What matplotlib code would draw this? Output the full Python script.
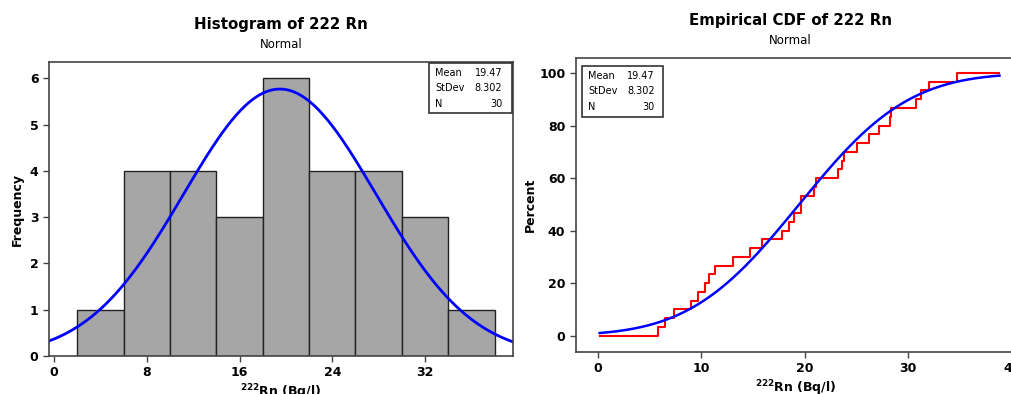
import numpy as np
import matplotlib.pyplot as plt
from matplotlib.patches import Rectangle
from math import erf, sqrt, pi

# values
rn_values = [5.87, 6.52, 7.33, 9.02, 9.70, 10.35, 10.74, 11.30, 13.10, 14.67,
             15.87, 17.79, 18.47, 18.92, 19.67, 19.67, 20.87, 21.13, 23.17, 23.56,
             23.80, 25.04, 26.17, 27.20, 28.20, 28.37, 30.70, 31.26, 32.00, 34.66]
bin_edges = [2, 6, 10, 14, 18, 22, 26, 30, 34, 38]
mean_val = 19.47
std_val = 8.302
n_val = 30
hist_ticks = [0, 8, 16, 24, 32]
cdf_xticks = [0, 10, 20, 30, 40]
cdf_yticks = [0, 20, 40, 60, 80, 100]
stat_labels = ["Mean", "StDev", "N"]
stat_values = ["19.47", "8.302", "30"]


def normal_pdf(x):
    return np.exp(-0.5 * ((x - mean_val) / std_val) ** 2) / (std_val * sqrt(2 * pi))


def normal_cdf(x):
    return np.array([0.5 * (1 + erf((v - mean_val) / (std_val * sqrt(2)))) for v in x])


def stats_box(ax, x0, y0, w, h, pad_l, pad_r):
    """Minitab style summary box, coordinates in axes fraction."""
    ax.add_patch(Rectangle((x0, y0), w, h, transform=ax.transAxes,
                           facecolor="white", edgecolor="#333333", lw=1.2, zorder=5))
    for i, (lab, val) in enumerate(zip(stat_labels, stat_values)):
        yy = y0 + h * (1 - (0.19 + 0.31 * i))
        ax.text(x0 + pad_l, yy, lab, transform=ax.transAxes,
                fontsize=7, va="center", ha="left", zorder=6)
        ax.text(x0 + w - pad_r, yy, val, transform=ax.transAxes,
                fontsize=7, va="center", ha="right", zorder=6)


def style_axes(ax):
    for s in ax.spines.values():
        s.set_color("#444444")
        s.set_linewidth(1.2)
    ax.tick_params(direction="out", length=4, width=1, color="#444444",
                   labelsize=9)
    for lab in ax.get_xticklabels() + ax.get_yticklabels():
        lab.set_fontweight("bold")


fig = plt.figure(figsize=(10.12, 3.94), dpi=100)

# histogram
ax1 = fig.add_axes([0.0484, 0.0964, 0.4586, 0.7462])
counts, _ = np.histogram(rn_values, bins=bin_edges)
ax1.bar(bin_edges[:-1], counts, width=np.diff(bin_edges), align="edge",
        color="#a6a6a6", edgecolor="#222222", linewidth=1)
xs = np.linspace(-0.45, 39.6, 300)
ax1.plot(xs, normal_pdf(xs) * n_val * 4, color="#0000ff", lw=2)
ax1.set_xlim(-0.45, 39.6)
ax1.set_ylim(0, 6.35)
ax1.set_xticks(hist_ticks)
ax1.set_yticks(range(7))
ax1.set_ylabel("Frequency", fontsize=9, fontweight="bold", labelpad=4)
ax1.set_xlabel(r"$^{\mathbf{222}}$Rn (Bq/l)", fontsize=9, fontweight="bold", labelpad=2)
style_axes(ax1)
stats_box(ax1, 0.819, 0.826, 0.179, 0.17, 0.013, 0.021)

# empirical cdf
ax2 = fig.add_axes([0.569, 0.1066, 0.435, 0.7462])
srt = np.sort(rn_values)
step_x = np.concatenate([[0.2], srt, [38.8]])
step_y = np.concatenate([[0], np.arange(1, n_val + 1) / n_val * 100, [100]])
ax2.step(step_x, step_y, where="post", color="#ff0000", lw=1.5)
cx = np.linspace(0.2, 38.8, 300)
ax2.plot(cx, normal_cdf(cx) * 100, color="#0000ff", lw=1.8)
ax2.set_xlim(-2.1, 40.4)
ax2.set_ylim(-6.2, 105.7)
ax2.set_xticks(cdf_xticks)
ax2.set_yticks(cdf_yticks)
ax2.set_ylabel("Percent", fontsize=9, fontweight="bold", labelpad=2)
ax2.set_xlabel(r"$^{\mathbf{222}}$Rn (Bq/l)", fontsize=9, fontweight="bold", labelpad=2)
style_axes(ax2)
stats_box(ax2, 0.014, 0.80, 0.183, 0.173, 0.014, 0.018)

fig.text(0.278, 0.937, "Histogram of 222 Rn", ha="center", va="center",
         fontsize=10.8, fontweight="bold")
fig.text(0.278, 0.886, "Normal", ha="center", va="center", fontsize=8.5)
fig.text(0.781, 0.949, "Empirical CDF of 222 Rn", ha="center", va="center",
         fontsize=10.8, fontweight="bold")
fig.text(0.781, 0.896, "Normal", ha="center", va="center", fontsize=8.5)

fig.savefig("out.png", dpi=100)
